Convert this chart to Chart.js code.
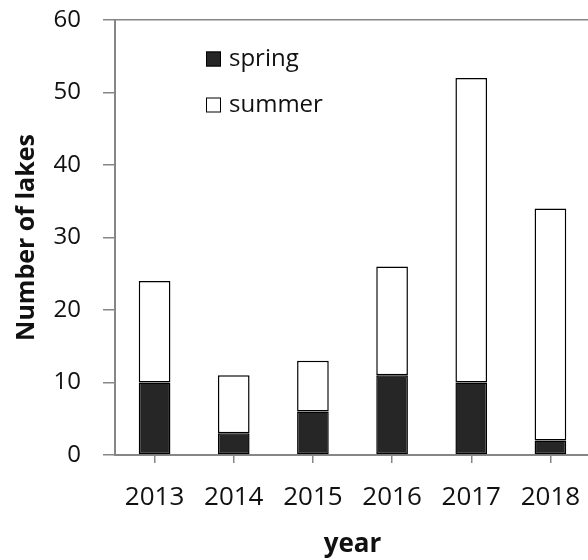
<!DOCTYPE html>
<html>
<head>
<meta charset="utf-8">
<script src="https://cdn.jsdelivr.net/npm/chart.js@4"></script>
<style>
  html, body { margin: 0; padding: 0; background: #fff; overflow: hidden; }
</style>
</head>
<body>
<canvas id="lakesChart" width="590" height="560"></canvas>
<script>
// datos del gráfico
const years = ['2013', '2014', '2015', '2016', '2017', '2018'];
const spring = [10, 3, 6, 11, 10, 2];
const summer = [14, 8, 7, 15, 42, 32];
const yTicks = [0, 10, 20, 30, 40, 50, 60];

const FONT = '"Open Sans", Lato, sans-serif';
const AXIS_GREY = '#868686';
const TEXT = '#111';

// leyenda dibujada dentro del área del gráfico
const insideLegend = {
    id: 'insideLegend',
    afterDraw(chart) {
        const ctx = chart.ctx;
        const rows = [59, 105];
        ctx.save();
        ctx.font = '24px ' + FONT;
        ctx.textBaseline = 'middle';
        chart.data.datasets.forEach((ds, i) => {
            const y = rows[i];
            ctx.fillStyle = ds.backgroundColor;
            ctx.fillRect(206, y - 7.5, 15, 15);
            ctx.strokeStyle = '#000';
            ctx.lineWidth = 1;
            ctx.strokeRect(206.5, y - 7, 14, 14);
            ctx.fillStyle = TEXT;
            ctx.fillText(ds.label, 229, y);
        });
        ctx.restore();
    }
};

new Chart(document.getElementById('lakesChart'), {
    type: 'bar',
    data: {
        labels: years,
        datasets: [{
            label: 'spring',
            data: spring,
            backgroundColor: '#262626',
            borderColor: '#000',
            borderWidth: 1.5,
            borderSkipped: false
        }, {
            label: 'summer',
            data: summer,
            backgroundColor: '#ffffff',
            borderColor: '#000',
            borderWidth: 1.5,
            borderSkipped: false
        }]
    },
    options: {
        responsive: false,
        animation: false,
        layout: { padding: { top: 20, left: 0, right: 0, bottom: 0 } },
        datasets: {
            bar: { categoryPercentage: 1, barPercentage: 0.4 }
        },
        plugins: {
            legend: { display: false },
            tooltip: { enabled: false }
        },
        scales: {
            x: {
                stacked: true,
                afterFit: s => {
                    s.height = 105;
                    s.paddingLeft = 0;
                    s.paddingRight = 0;
                },
                grid: {
                    offset: false,
                    drawOnChartArea: false,
                    tickLength: 8,
                    tickColor: AXIS_GREY,
                    lineWidth: 1.5
                },
                border: { color: AXIS_GREY, width: 2 },
                ticks: {
                    color: TEXT,
                    font: { family: FONT, size: 26 },
                    padding: 19,
                    maxRotation: 0
                },
                title: {
                    display: true,
                    text: 'year',
                    color: TEXT,
                    font: { family: FONT, size: 26, weight: 'bold' },
                    padding: { top: 0, bottom: 0 }
                }
            },
            y: {
                stacked: true,
                min: 0,
                max: 60,
                afterFit: s => {
                    s.width = 115;
                    s.paddingTop = 0;
                    s.paddingBottom = 0;
                },
                afterBuildTicks: s => { s.ticks = yTicks.map(v => ({ value: v })); },
                grid: {
                    color: c => (c.tick && c.tick.value === 60) ? AXIS_GREY : 'rgba(0,0,0,0)',
                    tickColor: AXIS_GREY,
                    tickLength: 12,
                    lineWidth: 1.5
                },
                border: { color: AXIS_GREY, width: 2 },
                ticks: {
                    color: TEXT,
                    font: { family: FONT, size: 24 },
                    padding: 22
                },
                title: {
                    display: true,
                    text: 'Number of lakes',
                    color: TEXT,
                    font: { family: FONT, size: 25, weight: 'bold' },
                    padding: { top: 12, bottom: 0 }
                }
            }
        }
    },
    plugins: [insideLegend]
});
</script>
</body>
</html>
